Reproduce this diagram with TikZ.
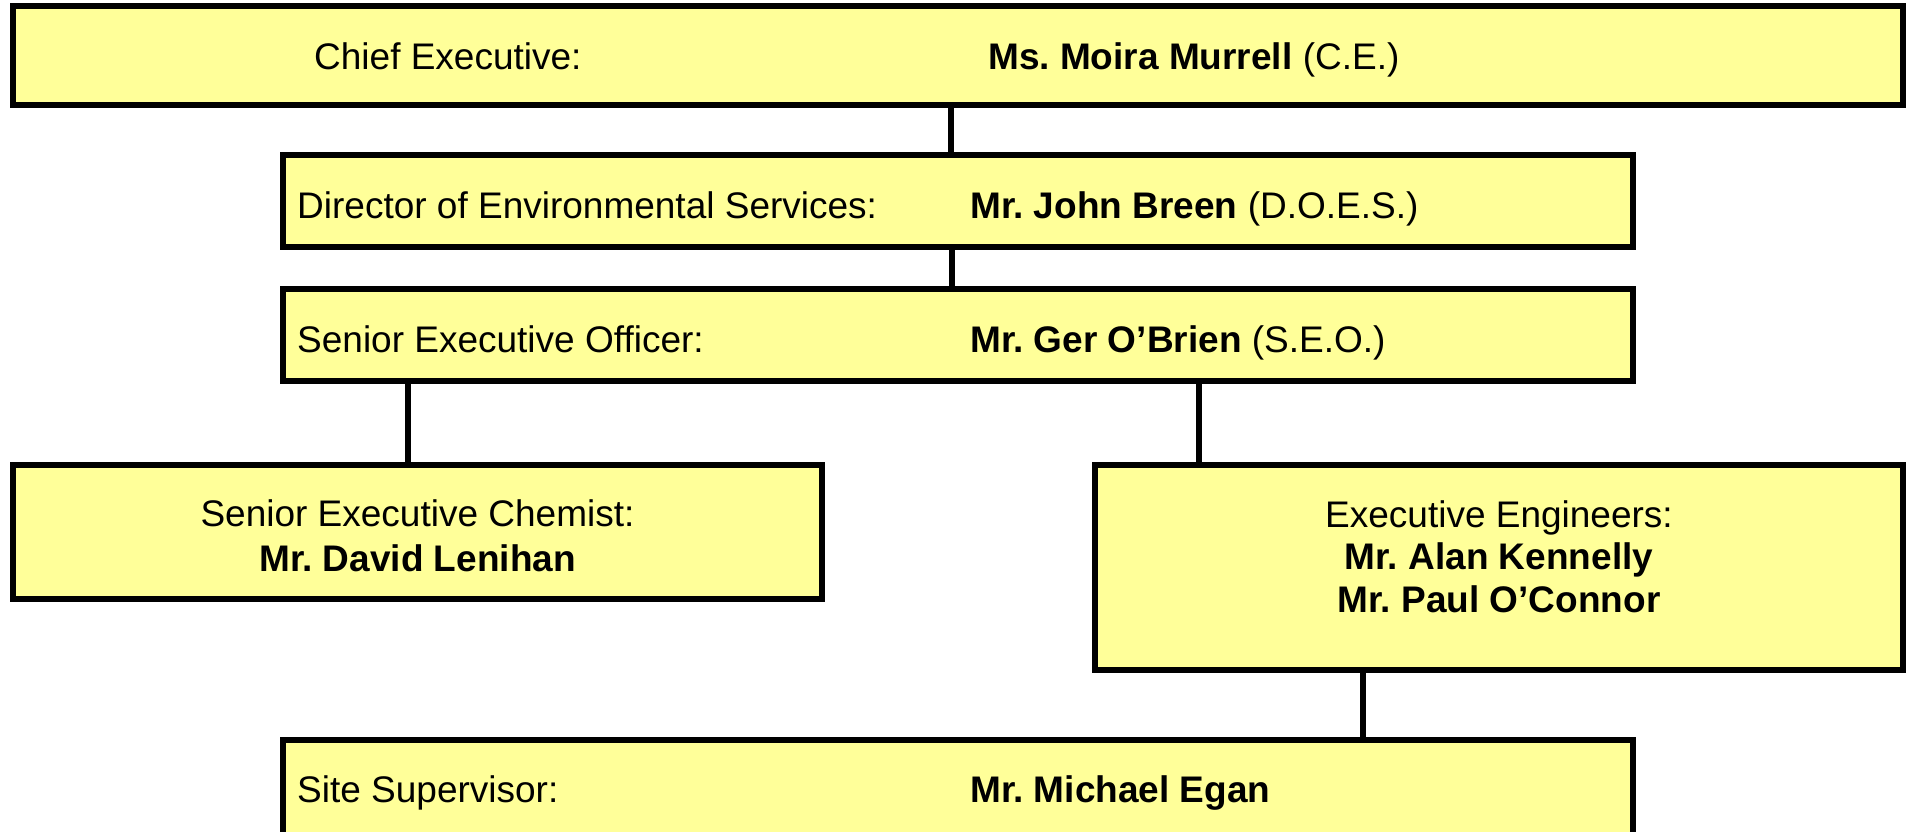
\documentclass[tikz,border=0pt]{standalone}
\usepackage{fontspec}
\setmainfont{Liberation Sans}
\frenchspacing
\definecolor{boxfill}{RGB}{255,255,153}
\tikzset{
  post/.style={draw=black, fill=boxfill, line width=6pt, inner sep=0pt},
  lbl/.style={anchor=base west, inner sep=0pt, font=\fontsize{37}{45}\selectfont},
  ctr/.style={anchor=base, inner sep=0pt, align=center, font=\fontsize{37}{45}\selectfont},
  link/.style={line width=6pt},
}
\begin{document}
\begin{tikzpicture}[x=1pt,y=-1pt]
\useasboundingbox (0,0) rectangle (1908,832);
% boxes
\node[post, minimum width=1890pt, minimum height=99pt] (ce) at (958,55.5) {};
\node[post, minimum width=1350pt, minimum height=92pt] (does) at (958,201) {};
\node[post, minimum width=1350pt, minimum height=92pt] (seo) at (958,335) {};
\node[post, minimum width=809pt, minimum height=134pt] (sec) at (417.5,532) {};
\node[post, minimum width=808pt, minimum height=205pt] (ee) at (1499,567.5) {};
\node[post, minimum width=1350pt, minimum height=100pt] (site) at (958,790) {};
% links
\draw[link] (951,0 |- ce.south) -- (951,0 |- does.north);
\draw[link] (952,0 |- does.south) -- (952,0 |- seo.north);
\draw[link] (408,0 |- seo.south) -- (408,0 |- sec.north);
\draw[link] (1199,0 |- seo.south) -- (1199,0 |- ee.north);
\draw[link] (1363,0 |- ee.south) -- (1363,0 |- site.north);
% texts
\node[lbl] (ceT) at (314,70) {Chief Executive:};
\node[lbl] (ceN) at (988,70) {\textbf{Ms. Moira Murrell} (C.E.)};
\node[lbl] (doesT) at (297,218) {Director of Environmental Services:};
\node[lbl] (doesN) at (970,218) {\textbf{Mr. John Breen} (D.O.E.S.)};
\node[lbl] (seoT) at (297,352) {Senior Executive Officer:};
\node[lbl] (seoN) at (970,352) {\textbf{Mr. Ger O’Brien} (S.E.O.)};
\node[ctr] (secT) at (417.5,571) {Senior Executive Chemist:\\\textbf{Mr. David Lenihan}};
\node[ctr, font=\fontsize{37}{42.5}\selectfont] (eeT) at (1499,612) {Executive Engineers:\\\textbf{Mr. Alan Kennelly}\\\textbf{Mr. Paul O’Connor}};
\node[lbl] (siteT) at (297,802) {Site Supervisor:};
\node[lbl] (siteN) at (970,802) {\textbf{Mr. Michael Egan}};
\end{tikzpicture}
\end{document}
